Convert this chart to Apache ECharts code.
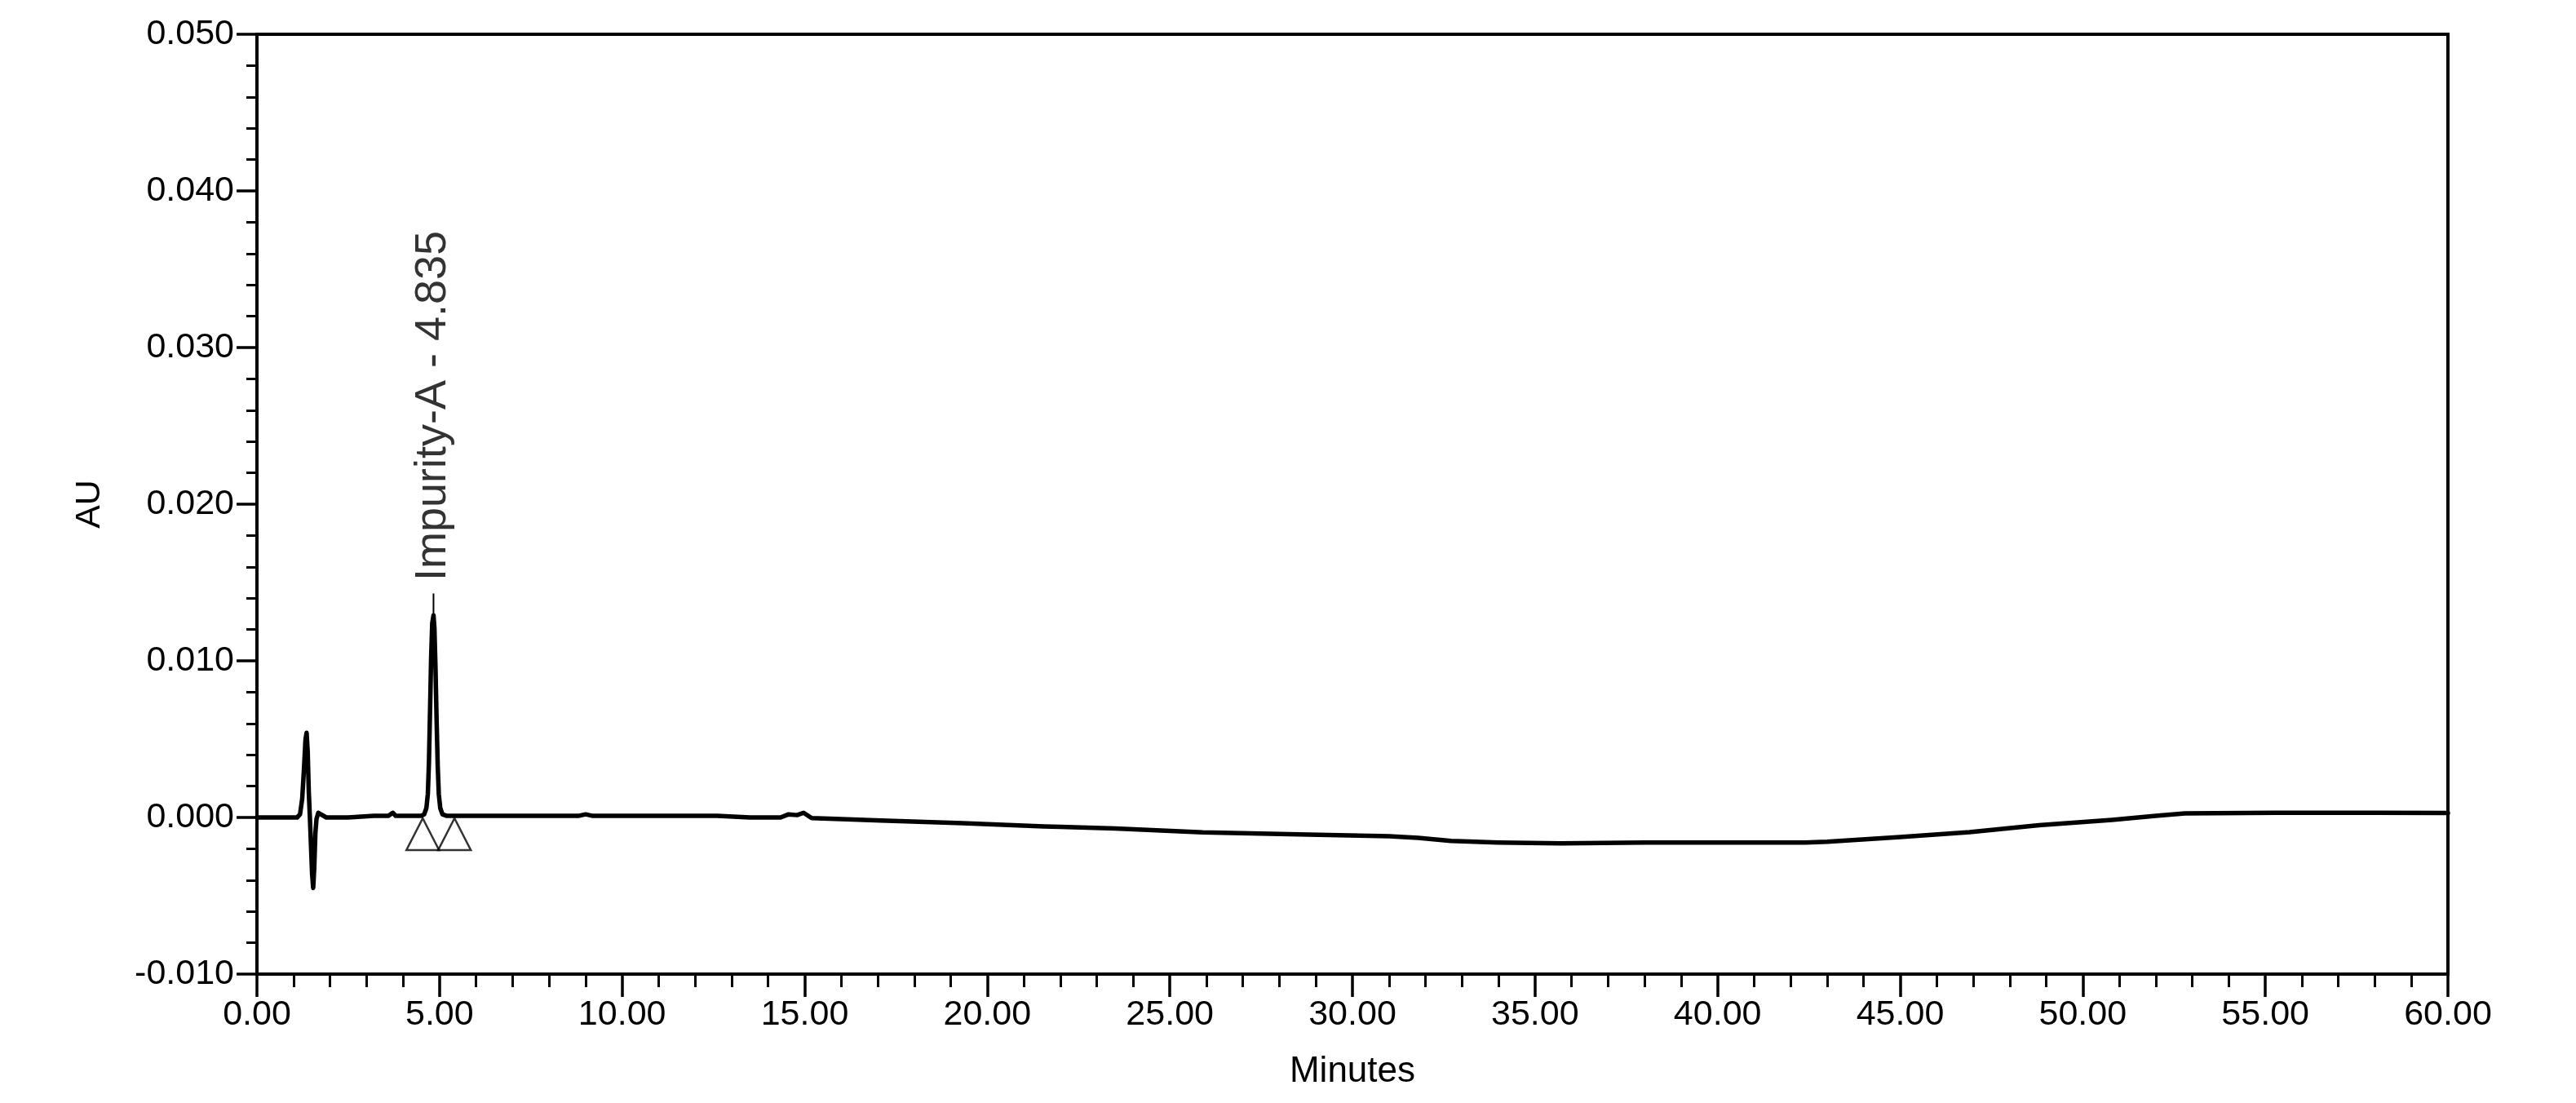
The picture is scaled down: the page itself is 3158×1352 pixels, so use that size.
<!DOCTYPE html>
<html>
<head>
<meta charset="utf-8">
<script src="https://cdn.jsdelivr.net/npm/echarts@6/dist/echarts.min.js"></script>
<style>
html,body{margin:0;padding:0;background:#ffffff;}
#chart{width:3158px;height:1352px;}
</style>
</head>
<body>
<div id="chart"></div>
<script>
// ---- data ----
const traceMinutes = [
  0.00, 0.60, 1.10, 1.18, 1.24, 1.29, 1.33, 1.36, 1.39, 1.42, 1.45, 1.48, 1.51, 1.54, 1.57, 1.60, 1.63, 1.68, 1.75, 1.90,
  2.50, 3.20, 3.60, 3.72, 3.80, 4.20, 4.50, 4.58, 4.64, 4.68, 4.71, 4.74, 4.77, 4.80, 4.835, 4.86, 4.89, 4.92, 4.95, 4.98,
  5.02, 5.08, 5.20, 6.50, 8.00, 8.80, 9.00, 9.20, 11.00, 12.60, 13.50, 14.34, 14.56, 14.79, 14.97, 15.19, 16.00, 17.09,
  19.32, 21.55, 22.00, 23.50, 25.90, 28.80, 31.00, 31.80, 32.70, 34.00, 35.70, 38.00, 40.00, 42.40, 43.00, 45.00, 46.90,
  48.80, 50.80, 52.00, 52.80, 55.30, 58.00, 60.00
];
const traceAU = [
  0.0000, 0.0000, 0.0000, 0.0002, 0.0012, 0.0032, 0.0050, 0.0054, 0.0042, 0.0016, 0.0000, -0.0018, -0.0036, -0.0045, -0.0032, -0.0010, -0.0001, 0.0003, 0.0002, 0.0000,
  0.0000, 0.0001, 0.0001, 0.0003, 0.0001, 0.0001, 0.0001, 0.0002, 0.0006, 0.0015, 0.0035, 0.0068, 0.0102, 0.0124, 0.0129, 0.0121, 0.0095, 0.0062, 0.0033, 0.0015,
  0.0006, 0.0002, 0.0001, 0.0001, 0.0001, 0.0001, 0.0002, 0.0001, 0.0001, 0.0001, 0.0000, 0.0000, 0.0002, 0.00015, 0.0003, -0.00004, -0.0001, -0.0002,
  -0.00037, -0.00057, -0.0006, -0.0007, -0.00095, -0.0011, -0.0012, -0.0013, -0.0015, -0.0016, -0.00165, -0.0016, -0.0016, -0.0016, -0.00155, -0.00125, -0.00094,
  -0.0005, -0.00016, 0.0001, 0.00026, 0.0003, 0.0003, 0.00028
];
const peakNames = ['Impurity-A'];
const peakRetention = [4.835];
const peakApexAU = [0.0129];
const peakLeaderTopAU = [0.0143];
const peakLabelStartAU = [0.0151];
const peakMarkerMinutes = [4.54, 5.41];
const peakMarkerAU = [-0.00107, -0.00107];
const xRange = [0, 60];
const xStep = 5;
const yRange = [-0.010, 0.050];
const yStep = 0.010;

// ---- chart ----
const FONT = 'Liberation Sans, Arial, sans-serif';
const chart = echarts.init(document.getElementById('chart'), null, {renderer: 'canvas'});

const tracePairs = traceMinutes.map((m, i) => [m, traceAU[i]]);
const leaderPairs = [];
peakRetention.forEach((rt, i) => { leaderPairs.push([rt, peakApexAU[i]], [rt, peakLeaderTopAU[i]], null); });
const labelPoints = peakRetention.map((rt, i) => ({
  value: [rt, peakLabelStartAU[i]],
  name: peakNames[i] + ' - ' + rt.toFixed(3)
}));
const markerPairs = peakMarkerMinutes.map((m, i) => [m, peakMarkerAU[i]]);

chart.setOption({
  animation: false,
  backgroundColor: '#ffffff',
  grid: {
    left: 315, right: 157, top: 42, bottom: 158,
    show: true, borderColor: '#000', borderWidth: 4, backgroundColor: 'transparent'
  },
  xAxis: {
    type: 'value',
    min: xRange[0], max: xRange[1], interval: xStep,
    name: 'Minutes', nameLocation: 'middle', nameGap: 98,
    nameTextStyle: {fontFamily: FONT, fontSize: 44, color: '#000'},
    axisLine: {show: true, onZero: false, lineStyle: {color: '#000', width: 4}},
    axisTick: {show: true, length: 28, lineStyle: {color: '#000', width: 3.5}},
    minorTick: {show: true, splitNumber: 5, length: 16, lineStyle: {color: '#000', width: 3}},
    splitLine: {show: false},
    minorSplitLine: {show: false},
    axisLabel: {
      fontFamily: FONT, fontSize: 43, color: '#000', margin: 29,
      showMinLabel: true, showMaxLabel: true,
      formatter: v => v.toFixed(2)
    }
  },
  yAxis: {
    type: 'value',
    min: yRange[0], max: yRange[1], interval: yStep,
    name: 'AU', nameLocation: 'middle', nameGap: 183,
    nameTextStyle: {fontFamily: FONT, fontSize: 43, color: '#000'},
    axisLine: {show: true, onZero: false, lineStyle: {color: '#000', width: 4}},
    axisTick: {show: true, length: 25, lineStyle: {color: '#000', width: 3.5}},
    minorTick: {show: true, splitNumber: 5, length: 13, lineStyle: {color: '#000', width: 3}},
    splitLine: {show: false},
    minorSplitLine: {show: false},
    axisLabel: {
      fontFamily: FONT, fontSize: 43, color: '#000', margin: 28,
      showMinLabel: true, showMaxLabel: true,
      formatter: v => (Math.abs(v) < 1e-9 ? 0 : v).toFixed(3)
    }
  },
  series: [
    {
      type: 'line',
      data: tracePairs,
      showSymbol: false,
      symbol: 'none',
      smooth: false,
      silent: true,
      lineStyle: {color: '#000', width: 5.5, join: 'round', cap: 'round'},
      z: 3
    },
    {
      type: 'line',
      data: leaderPairs,
      showSymbol: false,
      symbol: 'none',
      connectNulls: false,
      silent: true,
      lineStyle: {color: '#000', width: 2},
      z: 3
    },
    {
      type: 'scatter',
      data: markerPairs,
      symbol: 'triangle',
      symbolSize: [40, 39],
      silent: true,
      itemStyle: {color: 'rgba(0,0,0,0)', borderColor: '#000', borderWidth: 2.5},
      z: 4
    },
    {
      type: 'scatter',
      data: labelPoints,
      symbol: 'circle',
      symbolSize: 2,
      silent: true,
      itemStyle: {color: 'rgba(0,0,0,0)'},
      label: {
        show: true,
        position: 'inside',
        rotate: 90,
        align: 'left',
        verticalAlign: 'middle',
        formatter: p => p.name,
        fontFamily: FONT,
        fontSize: 54,
        color: '#000'
      },
      labelLayout: {hideOverlap: false},
      z: 5
    }
  ]
});
</script>
</body>
</html>
